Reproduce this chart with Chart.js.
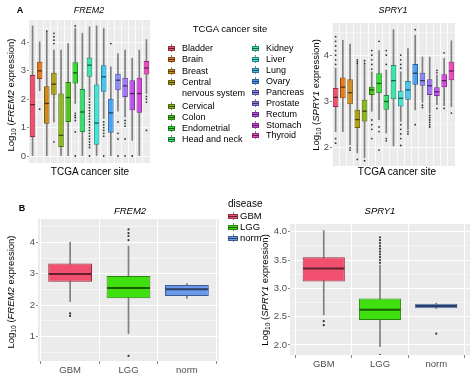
<!DOCTYPE html>
<html><head><meta charset="utf-8">
<script src="https://cdn.jsdelivr.net/npm/chart.js@4"></script>
<style>
body{margin:0;width:474px;height:376px;background:#fff;position:relative;overflow:hidden;font-family:"Liberation Sans",Arial,sans-serif;color:#000;}
canvas{position:absolute;}
.t{position:absolute;white-space:nowrap;line-height:1;}
.c{transform:translate(-50%,-50%);}
.l{transform:translate(0,-50%);}
.yt{position:absolute;white-space:nowrap;line-height:1;transform:translate(-50%,-50%) rotate(-90deg);font-size:9.5px;}
.sub{font-size:70%;vertical-align:-2px;}
.key{position:absolute;}
.key .w{position:absolute;left:50%;top:0;bottom:0;width:1px;margin-left:-0.5px;background:#7f7f7f;}
.key .b{position:absolute;left:0;right:0;box-sizing:border-box;border:1px solid;}
.key .m{position:absolute;left:0;right:0;height:1px;top:50%;margin-top:-0.5px;}
</style></head><body>
<canvas id="cA1"></canvas>
<canvas id="cA2"></canvas>
<canvas id="cB1"></canvas>
<canvas id="cB2"></canvas>
<div id="txt"></div>
<script>
// ---------- data ----------
const siteCategories = ['Bladder','Brain','Breast','Central nervous system','Cervical','Colon','Endometrial','Head and neck','Kidney','Liver','Lung','Ovary','Pancreas','Prostate','Rectum','Stomach','Thyroid'];
const siteColors = ['#F0506E','#E8781E','#D08A1A','#B0A010','#88B818','#48C818','#30DE30','#38E070','#38E8A8','#40E6D8','#40C8F0','#48A0F8','#8888F8','#A070F8','#C050F0','#D848E0','#F048C0'];
// [lower whisker, Q1, median, Q3, upper whisker]
const frem2SiteBox = [
 [0.00,0.67,1.81,2.85,4.58],[2.30,2.71,3.00,3.32,4.02],[0.00,1.14,1.85,2.46,4.38],[1.20,2.16,2.53,2.93,3.73],
 [0.00,0.32,0.73,2.20,3.73],[0.00,1.20,2.06,2.61,3.96],[1.85,2.55,2.93,3.30,4.50],[0.00,0.85,1.55,2.36,4.32],
 [2.08,2.79,3.20,3.47,4.55],[0.00,0.40,1.16,2.52,4.58],[1.32,2.26,2.79,3.20,4.49],[0.00,0.82,1.52,2.02,3.14],
 [1.58,2.32,2.67,2.90,3.60],[1.38,2.08,2.47,2.76,3.73],[0.55,1.61,2.20,2.67,3.44],[0.00,1.52,2.20,2.76,3.73],
 [2.20,2.87,3.10,3.35,4.10]];
const frem2SiteOutliers = [
 [],[1.65],[4.40],[4.32,4.20,4.08,3.96,0.50],[],[],[4.58,1.50,1.42,1.35,1.25,0.85,0.00],[],
 [2.00,1.90,1.80,1.70,1.60,1.50,1.40,1.30,1.20,1.10,1.00,0.90,0.80,0.70,0.60,0.50,0.40,0.30,0.00],[],
 [1.20,1.10,1.00,0.90,0.80,0.70,0.00],[3.96],[1.20,0.80,0.60,0.00],[1.25,1.15,1.05,0.60,0.00],[0.00],[],
 [2.10,2.00,1.90,0.90]];
const spry1SiteBox = [
 [2.35,2.88,3.09,3.29,3.72],[2.35,3.07,3.31,3.52,4.32],[2.07,2.94,3.19,3.48,4.24],[1.89,2.43,2.61,2.82,3.79],
 [1.79,2.57,2.79,3.04,3.79],[2.79,3.14,3.25,3.32,3.64],[2.61,3.18,3.39,3.61,4.10],[2.32,2.82,3.00,3.14,3.68],
 [2.04,3.05,3.45,3.79,4.55],[2.57,2.89,3.07,3.23,3.64],[2.39,3.04,3.25,3.44,4.14],[2.82,3.36,3.61,3.81,4.43],
 [2.98,3.34,3.45,3.62,3.96],[2.75,3.14,3.34,3.48,3.96],[2.93,3.12,3.21,3.31,3.57],[2.91,3.31,3.45,3.59,3.93],
 [2.89,3.46,3.66,3.86,4.31]];
const spry1SiteOutliers = [
 [3.80,3.90,4.00,4.10,4.20,4.30,4.40,2.20,2.10],[],[2.00,1.95],[3.82,3.86,3.90,1.75],[3.82,3.88,1.72],
 [3.70,3.80,3.90,4.00,4.10,2.60,2.50,2.40,2.20],[4.30,2.45,2.35,1.95],[3.80,4.00,4.10,2.20,2.15],[],
 [3.72,3.80,3.90,4.00,2.50,2.40,2.30,2.20,2.05],[2.35,2.30],[4.55,2.50],[2.92,2.87],
 [2.70,2.65,2.60,2.55,2.50,2.45],[3.62,3.67,2.85],[4.05,2.85],[2.75]];
const diseaseCategories = ['GBM','LGG','norm'];
const diseaseColors = ['#F0506E','#40E010','#6A9AEE'];
const frem2DiseaseBox = [[2.11,2.75,2.99,3.33,4.00],[1.10,2.22,2.55,2.93,3.88],[2.22,2.29,2.51,2.64,2.69]];
const frem2DiseaseOutliers = [[1.74,1.66],[4.07,4.20,4.29,4.41,0.39],[]];
const spry1DiseaseBox = [[2.53,3.12,3.35,3.55,4.02],[1.97,2.44,2.62,2.82,3.41],[2.64,2.65,2.69,2.73,2.74]];
const spry1DiseaseOutliers = [[2.42,2.35],[3.45,3.50,3.55,3.60,3.65,3.70,3.75,3.80,3.85,3.90,1.82],[2.20]];
const siteFrem2Ticks = [0,1,2,3,4];
const siteSpry1Ticks = [2,3,4];
const diseaseFrem2Ticks = [1,2,3,4];
const diseaseSpry1Ticks = [2.0,2.5,3.0,3.5,4.0];

// ---------- helpers ----------
function darken(hex,f){const n=parseInt(hex.slice(1),16);return `rgb(${Math.round(((n>>16)&255)*f)},${Math.round(((n>>8)&255)*f)},${Math.round((n&255)*f)})`;}
const panelBg={id:'panelBg',beforeDraw(ch){const a=ch.chartArea,c=ch.ctx;c.save();c.fillStyle='#EBEBEB';c.fillRect(a.left,a.top,a.right-a.left,a.bottom-a.top);c.restore();}};
const medianPlugin={id:'medianLine',afterDatasetsDraw(ch){
  ch.data.datasets.forEach((ds,di)=>{ if(!ds.medians) return;
    const meta=ch.getDatasetMeta(di), ys=ch.scales.y, c=ch.ctx;
    meta.data.forEach((el,i)=>{const py=ys.getPixelForValue(ds.medians[i]);
      c.save();c.strokeStyle=ds.medianColors[i];c.lineWidth=ds.medianWidth;c.beginPath();
      c.moveTo(el.x-el.width/2+0.5,py);c.lineTo(el.x+el.width/2-0.5,py);c.stroke();c.restore();});
  });}};

function boxChart(id,o){
  const padT=10,padR=4,padB=o.padB;
  const cv=document.getElementById(id);
  const W=o.yAxisW+o.panel.w+padR, H=padT+o.panel.h+o.xAxisH+padB;
  cv.width=W;cv.height=H;cv.style.left=(o.panel.x-o.yAxisW)+'px';cv.style.top=(o.panel.y-padT)+'px';
  const step=o.minorStep;
  const allY=[];for(let v=Math.ceil(o.yMin/step)*step;v<=o.yMax+1e-9;v+=step)allY.push(Math.round(v*1000)/1000);
  const isMajor=v=>o.majors.some(m=>Math.abs(m-v)<1e-6);
  const outl=[];o.outliers.forEach((arr,i)=>arr.forEach(v=>outl.push({x:i+1,y:v})));
  const font={family:'"Liberation Sans", Arial, sans-serif',size:9.5};
  return new Chart(cv,{type:'bar',
    data:{datasets:[
      {type:'bar',data:o.cats.map((c,i)=>({x:i+1,y:[o.box[i][0],o.box[i][4]]})),backgroundColor:'#7f7f7f',barThickness:1,grouped:false,order:3},
      {type:'bar',data:o.cats.map((c,i)=>({x:i+1,y:[o.box[i][1],o.box[i][3]]})),backgroundColor:o.colors,
        borderColor:o.colors.map(c=>darken(c,0.6)),borderWidth:1,borderSkipped:false,categoryPercentage:1,barPercentage:o.barPct,grouped:false,order:2,
        medians:o.box.map(b=>b[2]),medianColors:o.colors.map(c=>darken(c,0.4)),medianWidth:o.medW},
      {type:'scatter',data:outl,pointRadius:o.ptR,pointBackgroundColor:'#333',pointBorderWidth:0,order:1}
    ]},
    options:{responsive:false,animation:false,events:[],layout:{padding:{left:0,top:padT,right:padR,bottom:padB}},
      plugins:{legend:{display:false},tooltip:{enabled:false}},
      scales:{
        x:{type:'linear',min:o.xMin,max:o.xMax,offset:false,
          afterBuildTicks:s=>{s.ticks=o.cats.map((c,i)=>({value:i+1}));},
          afterFit:s=>{s.height=o.xAxisH;},
          ticks:{display:!!o.xLabels,autoSkip:false,maxRotation:0,padding:1,color:'#4D4D4D',font:font,callback:(v,i)=>o.xLabels?o.xLabels[i]:''},
          grid:{color:'#ffffff',lineWidth:o.gridW,drawTicks:!!o.xLabels,tickLength:3,tickColor:'#888',tickWidth:1},border:{display:false}},
        y:{type:'linear',min:o.yMin,max:o.yMax,
          afterBuildTicks:s=>{s.ticks=allY.map(v=>({value:v}));},
          afterFit:s=>{s.width=o.yAxisW;},
          ticks:{autoSkip:false,padding:1,color:'#4D4D4D',font:font,callback:v=>isMajor(v)?o.fmt(v):''},
          grid:{color:'#ffffff',lineWidth:c=>isMajor(c.tick.value)?o.gridW:o.gridW*0.5,tickLength:2,tickColor:c=>isMajor(c.tick.value)?'#888':'rgba(0,0,0,0)',tickWidth:1},border:{display:false}}
      }},
    plugins:[panelBg,medianPlugin]});
}

boxChart('cA1',{panel:{x:29,y:20,w:121,h:143},yAxisW:14,xAxisH:2,padB:8,cats:siteCategories,box:frem2SiteBox,outliers:frem2SiteOutliers,
  colors:siteColors,xMin:0.5,xMax:17.5,yMin:-0.246,yMax:4.79,majors:siteFrem2Ticks,minorStep:0.5,fmt:v=>String(v),barPct:0.78,medW:1.3,ptR:0.9,gridW:0.8});
boxChart('cA2',{panel:{x:332,y:23,w:123,h:143},yAxisW:14,xAxisH:2,padB:8,cats:siteCategories,box:spry1SiteBox,outliers:spry1SiteOutliers,
  colors:siteColors,xMin:0.5,xMax:17.5,yMin:1.607,yMax:4.695,majors:siteSpry1Ticks,minorStep:0.5,fmt:v=>String(v),barPct:0.78,medW:1.3,ptR:0.9,gridW:0.8});
boxChart('cB1',{panel:{x:38,y:219,w:181,h:142},yAxisW:14,xAxisH:15,padB:0,cats:diseaseCategories,box:frem2DiseaseBox,outliers:frem2DiseaseOutliers,
  colors:diseaseColors,xMin:0.45,xMax:3.55,yMin:0.228,yMax:4.74,majors:diseaseFrem2Ticks,minorStep:0.5,fmt:v=>String(v),xLabels:diseaseCategories,barPct:0.75,medW:2,ptR:1.1,gridW:1});
boxChart('cB2',{panel:{x:290,y:224,w:180,h:131},yAxisW:24,xAxisH:15,padB:0,cats:diseaseCategories,box:spry1DiseaseBox,outliers:spry1DiseaseOutliers,
  colors:diseaseColors,xMin:0.4,xMax:3.6,yMin:1.823,yMax:4.136,majors:diseaseSpry1Ticks,minorStep:0.25,fmt:v=>v.toFixed(1),xLabels:diseaseCategories,barPct:0.75,medW:2,ptR:1.1,gridW:1});

// ---------- text & legends ----------
const T=document.getElementById('txt');
function txt(html,x,y,cls,style){const d=document.createElement('div');d.className='t '+(cls||'c');d.style.left=x+'px';d.style.top=y+'px';if(style)d.style.cssText+=style;d.innerHTML=html;T.appendChild(d);}
function ytitle(html,x,y){const d=document.createElement('div');d.className='yt';d.style.left=x+'px';d.style.top=y+'px';d.innerHTML=html;T.appendChild(d);}
function key(color,x,y,w,h){const d=document.createElement('div');d.className='key';d.style.cssText=`left:${x}px;top:${y-h/2}px;width:${w}px;height:${h}px`;
  const bh=Math.round(h*0.6);
  d.innerHTML=`<div class="w"></div><div class="b" style="top:${(h-bh)/2}px;height:${bh}px;background:${color};border-color:${darken(color,0.6)}"></div><div class="m" style="background:${darken(color,0.4)}"></div>`;T.appendChild(d);}

txt('A',20,10,'c','font-weight:bold;font-size:9px');
txt('<i>FREM2</i>',89,10,'c','font-size:9px');
txt('<i>SPRY1</i>',393,10,'c','font-size:9px');
ytitle('Log<span class="sub">10</span> (<i>FREM2</i> expression)',12,95);
ytitle('Log<span class="sub">10</span> (<i>SPRY1</i> expression)',317,95);
txt('TCGA cancer site',90,172,'c','font-size:10px');
txt('TCGA cancer site',397,172,'c','font-size:10px');
txt('TCGA cancer site',230,29,'c','font-size:9.5px');
const leftRows=[48,59,71,82,106,117,128,139];
const rightRows=[48,59,70,81,92,103,114,125,135];
siteCategories.forEach((c,i)=>{
  if(i<8){const y=leftRows[i];key(siteColors[i],168,y,7,8);
    if(c==='Central nervous system'){txt('Central',182,y,'l','font-size:9px');txt('nervous system',182,y+11,'l','font-size:9px');}
    else txt(c,182,y,'l','font-size:9px');}
  else{const y=rightRows[i-8];key(siteColors[i],252,y,7,8);txt(c,266,y,'l','font-size:9px');}
});
txt('B',22,208,'c','font-weight:bold;font-size:9px');
txt('<i>FREM2</i>',130,211,'c','font-size:9.5px');
txt('<i>SPRY1</i>',380,211,'c','font-size:9.5px');
ytitle('Log<span class="sub">10</span> (<i>FREM2</i> expression)',12,292);
ytitle('Log<span class="sub">10</span> (<i>SPRY1</i> expression)',266,290);
txt('disease',228,204,'l','font-size:10px');
diseaseCategories.forEach((c,i)=>{const y=[216,227,238][i];key(diseaseColors[i],228,y,10,8);txt(c,240,y,'l','font-size:9.5px');});
</script>
</body></html>
